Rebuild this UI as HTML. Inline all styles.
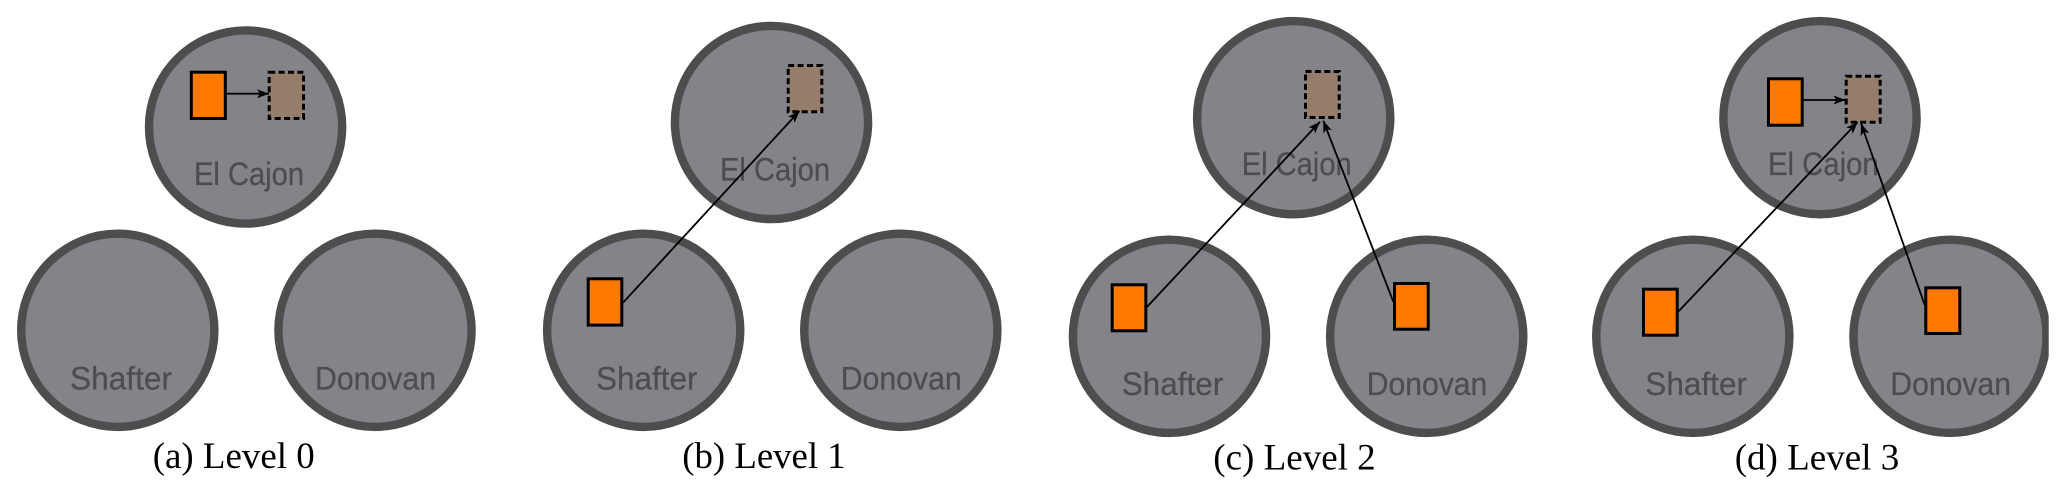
<!DOCTYPE html>
<html>
<head>
<meta charset="utf-8">
<style>
html,body{margin:0;padding:0;background:#fff;width:2067px;height:496px;overflow:hidden}
svg{display:block}
.c{fill:#838489;stroke:#4d4d4d;stroke-width:8.4}
.o{fill:#ff7800;stroke:#000;stroke-width:3}
.b{fill:#967c6b;stroke:#000;stroke-width:3;stroke-dasharray:6 3.4}
.a{stroke:#000;stroke-width:1.8;fill:none;marker-end:url(#h)}
.l{font-family:"Liberation Sans",sans-serif;font-size:32px;fill:#4d4d4d;stroke:#4d4d4d;stroke-width:.25}
.t{font-family:"Liberation Serif",serif;font-size:37px;fill:#000}
</style>
</head>
<body>
<svg width="2067" height="496" viewBox="0 0 2067 496" xmlns="http://www.w3.org/2000/svg">
<defs>
<marker id="h" markerUnits="userSpaceOnUse" markerWidth="14" markerHeight="12" refX="12" refY="6" orient="auto">
<path d="M0,1.5 L12,6 L0,10.5 L3,6 Z" fill="#000"/>
</marker>
<clipPath id="clipd"><rect x="1500" y="0" width="548.7" height="496"/></clipPath>
</defs>

<!-- (a) -->
<circle class="c" cx="245.6" cy="127" r="96.6"/>
<circle class="c" cx="117.8" cy="330.3" r="96.6"/>
<circle class="c" cx="375" cy="330.3" r="96.6"/>
<text class="l" x="194" y="185" textLength="110" lengthAdjust="spacingAndGlyphs">El Cajon</text>
<text class="l" x="70" y="389.3" textLength="102" lengthAdjust="spacingAndGlyphs">Shafter</text>
<text class="l" x="315" y="389.3" textLength="121" lengthAdjust="spacingAndGlyphs">Donovan</text>
<rect class="o" x="191.3" y="72.2" width="34" height="46.3"/>
<rect class="b" x="269.2" y="72.2" width="34.3" height="46.3"/>
<line class="a" x1="226" y1="93.7" x2="269" y2="93.7"/>
<text class="t" x="152.7" y="468" textLength="162" lengthAdjust="spacingAndGlyphs">(a) Level 0</text>

<!-- (b) -->
<circle class="c" cx="771.5" cy="122.5" r="96.6"/>
<circle class="c" cx="643.7" cy="330.3" r="96.6"/>
<circle class="c" cx="900.8" cy="330.3" r="96.6"/>
<text class="l" x="720" y="180.7" textLength="110" lengthAdjust="spacingAndGlyphs">El Cajon</text>
<text class="l" x="596" y="389.3" textLength="101.5" lengthAdjust="spacingAndGlyphs">Shafter</text>
<text class="l" x="840.7" y="389.3" textLength="121" lengthAdjust="spacingAndGlyphs">Donovan</text>
<rect class="b" x="788.2" y="65.5" width="33.6" height="46.3"/>
<rect class="o" x="588.2" y="278.8" width="33.6" height="46.3"/>
<line class="a" x1="623" y1="302.7" x2="799.5" y2="111"/>
<text class="t" x="682.3" y="468" textLength="163.4" lengthAdjust="spacingAndGlyphs">(b) Level 1</text>

<!-- (c) -->
<circle class="c" cx="1293.7" cy="117.7" r="96.6"/>
<circle class="c" cx="1169.5" cy="336.3" r="96.6"/>
<circle class="c" cx="1426.7" cy="336.3" r="96.6"/>
<text class="l" x="1241.7" y="175" textLength="110" lengthAdjust="spacingAndGlyphs">El Cajon</text>
<text class="l" x="1121.7" y="395" textLength="101.5" lengthAdjust="spacingAndGlyphs">Shafter</text>
<text class="l" x="1366.7" y="395" textLength="120.6" lengthAdjust="spacingAndGlyphs">Donovan</text>
<rect class="b" x="1305.5" y="71.5" width="33.7" height="46"/>
<rect class="o" x="1112.2" y="284.8" width="33.6" height="46"/>
<rect class="o" x="1394.5" y="283.5" width="33.7" height="45.7"/>
<line class="a" x1="1146.7" y1="307.3" x2="1320" y2="121.7"/>
<line class="a" x1="1393.3" y1="301.7" x2="1323.3" y2="120.7"/>
<text class="t" x="1213.3" y="469.3" textLength="162.4" lengthAdjust="spacingAndGlyphs">(c) Level 2</text>

<!-- (d) -->
<g clip-path="url(#clipd)">
<circle class="c" cx="1820" cy="117.7" r="96.6"/>
<circle class="c" cx="1692.8" cy="336.3" r="96.6"/>
<circle class="c" cx="1950" cy="336.3" r="96.6"/>
</g>
<text class="l" x="1768" y="175" textLength="110.7" lengthAdjust="spacingAndGlyphs">El Cajon</text>
<text class="l" x="1645.3" y="395" textLength="101.7" lengthAdjust="spacingAndGlyphs">Shafter</text>
<text class="l" x="1890.3" y="395" textLength="120.7" lengthAdjust="spacingAndGlyphs">Donovan</text>
<rect class="o" x="1768.5" y="78.8" width="33.7" height="46.4"/>
<rect class="b" x="1846.2" y="76.2" width="34" height="46"/>
<rect class="o" x="1643.5" y="289.2" width="33.7" height="46"/>
<rect class="o" x="1925.8" y="287.8" width="34" height="45.7"/>
<line class="a" x1="1803.7" y1="100" x2="1845.5" y2="100"/>
<line class="a" x1="1677.7" y1="312.3" x2="1857.7" y2="122"/>
<line class="a" x1="1924.7" y1="305" x2="1861" y2="123.3"/>
<text class="t" x="1734.7" y="469.3" textLength="164.6" lengthAdjust="spacingAndGlyphs">(d) Level 3</text>
</svg>
</body>
</html>
